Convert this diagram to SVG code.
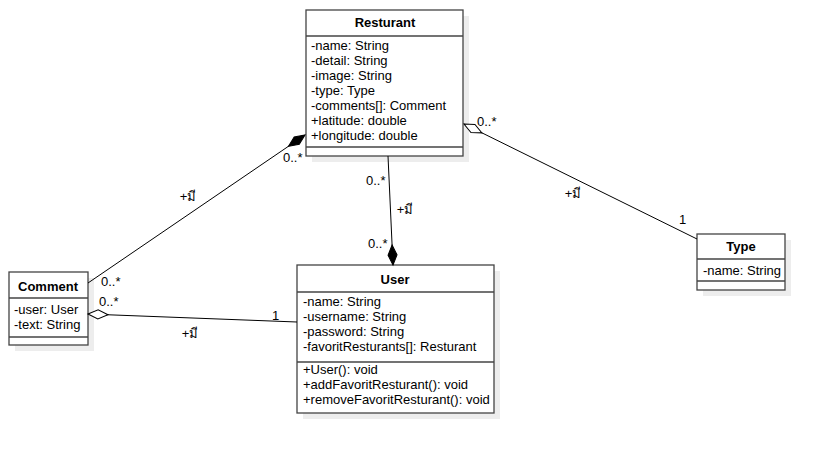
<svg xmlns="http://www.w3.org/2000/svg" width="825" height="451" viewBox="0 0 825 451">
<style>
text{font-family:"Liberation Sans",Arial,"DejaVu Sans",sans-serif;font-size:13px;fill:#000}
.h{font-weight:bold;text-anchor:middle}
.box{fill:#fff;stroke:#444;stroke-width:1.3}
.sh{fill:#ededed}
.sep{stroke:#444;stroke-width:1.3}
.ln{fill:none;stroke:#000;stroke-width:1}
.ml{text-anchor:middle}
</style>
<defs>
<marker id="df" markerUnits="userSpaceOnUse" orient="auto" refX="0" refY="0" markerWidth="24" markerHeight="12" viewBox="-1 -6 24 12" overflow="visible">
<path d="M0,0 L10,-4.5 L20,0 L10,4.5 Z" fill="#000" stroke="#000" stroke-width="1"/>
</marker>
<marker id="dh" markerUnits="userSpaceOnUse" orient="auto" refX="0" refY="0" markerWidth="24" markerHeight="12" viewBox="-1 -6 24 12" overflow="visible">
<path d="M0,0 L10,-4.5 L20,0 L10,4.5 Z" fill="#fff" stroke="#000" stroke-width="1"/>
</marker>
</defs>
<rect width="825" height="451" fill="#fff"/>
<g id="Resturant">
<rect class="sh" x="312" y="16" width="157" height="146"/>
<rect class="box" x="306" y="10" width="157" height="146"/>
<line class="sep" x1="306" y1="36" x2="463" y2="36"/>
<line class="sep" x1="306" y1="147" x2="463" y2="147"/>
<text class="h" x="385" y="27">Resturant</text>
<text x="311" y="50">-name: String</text>
<text x="311" y="65">-detail: String</text>
<text x="311" y="80">-image: String</text>
<text x="311" y="95">-type: Type</text>
<text x="311" y="110">-comments[]: Comment</text>
<text x="311" y="125">+latitude: double</text>
<text x="311" y="140">+longitude: double</text>
</g>
<g id="Comment">
<rect class="sh" x="15" y="278" width="79" height="73"/>
<rect class="box" x="9" y="272" width="79" height="73"/>
<line class="sep" x1="9" y1="298" x2="88" y2="298"/>
<line class="sep" x1="9" y1="337" x2="88" y2="337"/>
<text class="h" x="48" y="291">Comment</text>
<text x="14" y="314">-user: User</text>
<text x="14" y="329">-text: String</text>
</g>
<g id="User">
<rect class="sh" x="303" y="271" width="197" height="148"/>
<rect class="box" x="297" y="265" width="197" height="148"/>
<line class="sep" x1="297" y1="292" x2="494" y2="292"/>
<line class="sep" x1="297" y1="362" x2="494" y2="362"/>
<text class="h" x="395" y="284">User</text>
<text x="303" y="306">-name: String</text>
<text x="303" y="321">-username: String</text>
<text x="303" y="336">-password: String</text>
<text x="303" y="351">-favoritResturants[]: Resturant</text>
<text x="303" y="374">+User(): void</text>
<text x="303" y="389">+addFavoritResturant(): void</text>
<text x="303" y="404">+removeFavoritResturant(): void</text>
</g>
<g id="Type">
<rect class="sh" x="703" y="240" width="88" height="56"/>
<rect class="box" x="697" y="234" width="88" height="56"/>
<line class="sep" x1="697" y1="259" x2="785" y2="259"/>
<line class="sep" x1="697" y1="281" x2="785" y2="281"/>
<text class="h" x="741" y="251">Type</text>
<text x="703" y="275">-name: String</text>
</g>
<g id="connectors">
<path class="ln" d="M305,135 L88,283" marker-start="url(#df)"/>
<path class="ln" d="M393,265 L388,156" marker-start="url(#df)"/>
<path class="ln" d="M464,124 L697,239" marker-start="url(#dh)"/>
<path class="ln" d="M88,314 L297,322" marker-start="url(#dh)"/>
<text x="283" y="162">0..*</text>
<text class="ml" x="188" y="201">+มี</text>
<text x="101" y="286">0..*</text>
<text x="366" y="185">0..*</text>
<text class="ml" x="405" y="214">+มี</text>
<text x="368" y="248">0..*</text>
<text x="477" y="126">0..*</text>
<text class="ml" x="573" y="198">+มี</text>
<text x="679" y="224">1</text>
<text x="99" y="306">0..*</text>
<text x="272" y="320">1</text>
<text class="ml" x="190" y="338">+มี</text>
</g>
</svg>
